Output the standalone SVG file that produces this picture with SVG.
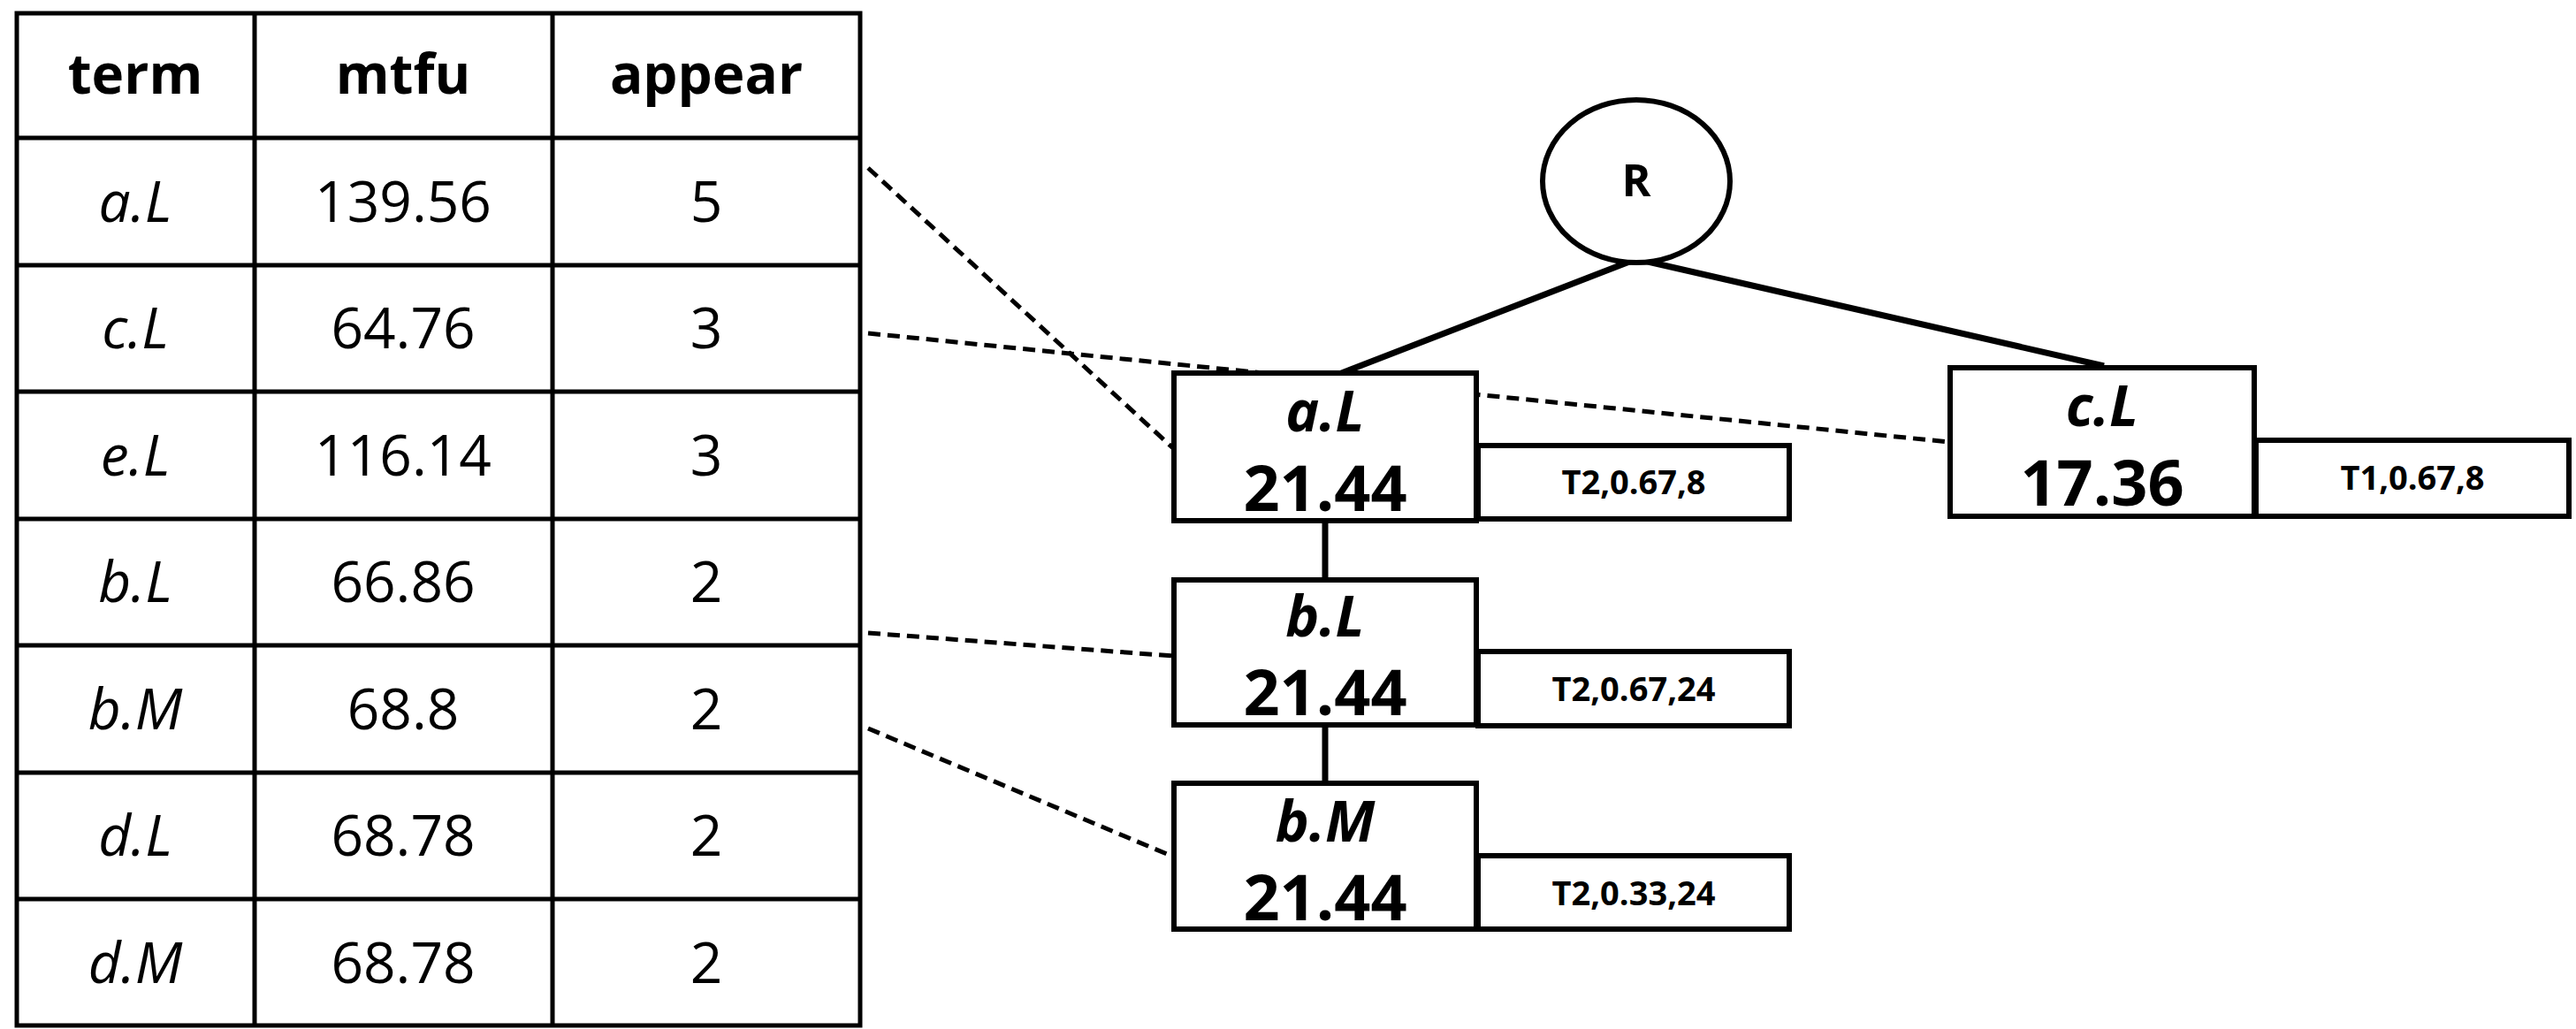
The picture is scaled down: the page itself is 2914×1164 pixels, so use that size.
<svg xmlns="http://www.w3.org/2000/svg" width="2914" height="1164" viewBox="0 0 2914 1164">
<style>
text{font-family:"Open Sans","Liberation Sans",sans-serif;fill:#000;text-anchor:middle}
.t{font-size:64px}
.h{font-size:62px;font-weight:bold}
.i{font-style:italic}
.g{stroke:#000;stroke-width:5;fill:none}
.box{fill:#fff;stroke:#000;stroke-width:6}
.nl{font-size:64px;font-weight:bold;font-style:italic}
.nv{font-size:72px;font-weight:bold}
.sl{font-size:38px;font-weight:bold}
.d{stroke:#000;stroke-width:5;stroke-dasharray:14 8;fill:none}
.s{stroke:#000;stroke-width:7;fill:none}
</style>
<rect width="2914" height="1164" fill="#fff"/>
<g id="table">
<rect x="19" y="15" width="954" height="1145" class="g"/>
<path class="g" d="M288 15V1160M625 15V1160M19 156H973M19 300H973M19 443H973M19 587H973M19 730H973M19 874H973M19 1017H973"/>
<g class="h"><text x="153" y="106">term</text><text x="456" y="106">mtfu</text><text x="799" y="106">appear</text></g>
<g class="t">
<text class="i" x="153" y="251">a.L</text><text x="456" y="251">139.56</text><text x="799" y="251">5</text>
<text class="i" x="153" y="394">c.L</text><text x="456" y="394">64.76</text><text x="799" y="394">3</text>
<text class="i" x="153" y="538">e.L</text><text x="456" y="538">116.14</text><text x="799" y="538">3</text>
<text class="i" x="153" y="681">b.L</text><text x="456" y="681">66.86</text><text x="799" y="681">2</text>
<text class="i" x="153" y="825">b.M</text><text x="456" y="825">68.8</text><text x="799" y="825">2</text>
<text class="i" x="153" y="968">d.L</text><text x="456" y="968">68.78</text><text x="799" y="968">2</text>
<text class="i" x="153" y="1112">d.M</text><text x="456" y="1112">68.78</text><text x="799" y="1112">2</text>
</g>
</g>
<g id="connectors">
<path class="d" d="M982 190L1327 507M982 377L2205 500M982 716L1327 742M982 824L1327 969"/>
<path class="s" d="M1851 293L1510 425M1851 293L2380 414M1499 589V656M1499 820V886"/>
</g>
<g id="R"><ellipse cx="1851" cy="205" rx="106" ry="92" class="box" stroke-width="4"/><text x="1851" y="222" style="font-size:50px;font-weight:bold">R</text></g>
<g id="aL"><rect x="1328" y="422" width="342" height="167" class="box"/><text class="nl" x="1499" y="488">a.L</text><text class="nv" x="1499" y="578">21.44</text>
<rect x="1672" y="504" width="352" height="83" class="box"/><text class="sl" x="1848" y="559">T2,0.67,8</text></g>
<g id="cL"><rect x="2206" y="416" width="344" height="168" class="box"/><text class="nl" x="2378" y="482">c.L</text><text class="nv" x="2378" y="572">17.36</text>
<rect x="2552" y="498" width="354" height="86" class="box"/><text class="sl" x="2729" y="554">T1,0.67,8</text></g>
<g id="bL"><rect x="1328" y="656" width="342" height="164" class="box"/><text class="nl" x="1499" y="720">b.L</text><text class="nv" x="1499" y="809">21.44</text>
<rect x="1672" y="737" width="352" height="84" class="box"/><text class="sl" x="1848" y="793">T2,0.67,24</text></g>
<g id="bM"><rect x="1328" y="886" width="342" height="165" class="box"/><text class="nl" x="1499" y="952">b.M</text><text class="nv" x="1499" y="1041">21.44</text>
<rect x="1672" y="968" width="352" height="83" class="box"/><text class="sl" x="1848" y="1024">T2,0.33,24</text></g>
</svg>
